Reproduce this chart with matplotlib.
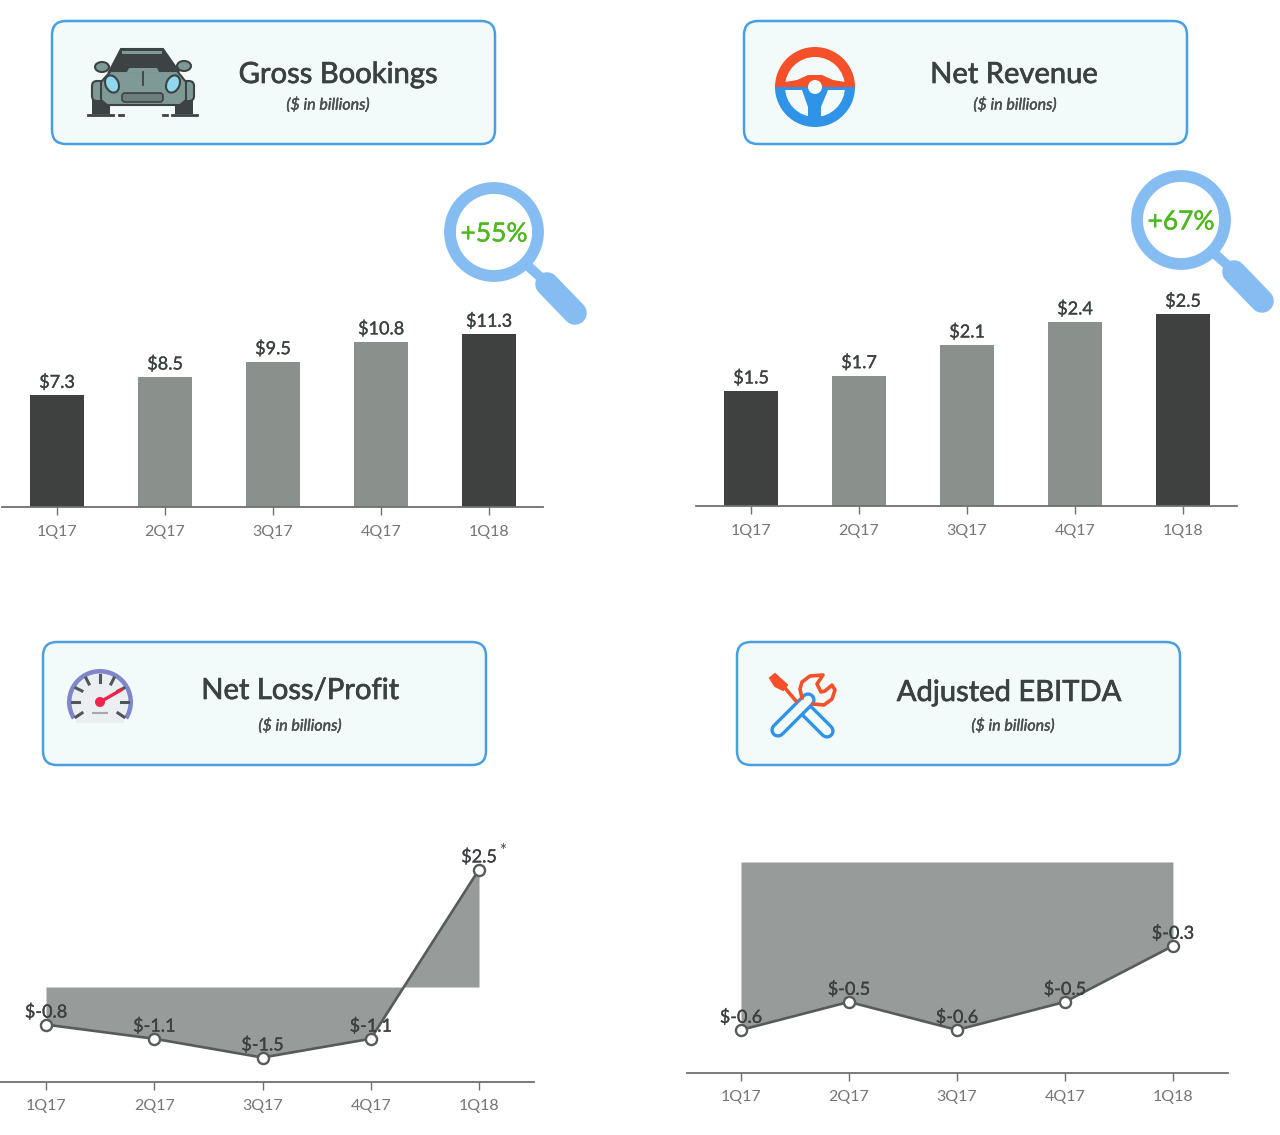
import matplotlib
matplotlib.use("Agg")
import matplotlib.pyplot as plt
import matplotlib.patheffects as pe
from matplotlib.patches import Circle, Ellipse, FancyBboxPatch, Polygon, Rectangle, Wedge

plt.rcParams['font.family'] = ['Lato', 'DejaVu Sans']

W, H = 1280, 1135

quarters = ['1Q17', '2Q17', '3Q17', '4Q17', '1Q18']
gross_bookings = [7.3, 8.5, 9.5, 10.8, 11.3]
net_revenue = [1.5, 1.7, 2.1, 2.4, 2.5]
net_loss = [-0.8, -1.1, -1.5, -1.1, 2.5]
adj_ebitda = [-0.6, -0.5, -0.6, -0.5, -0.3]

DARK = '#3f4040'
GREY = '#8a918d'
FILL = '#979b99'
LINE = '#565b5b'
AXIS = '#6e7070'
TEXT = '#3b4040'
TICK = '#747676'
BLUE = '#4a9fe2'
CARD = '#f2fbfa'
GLASS = '#85bdf2'
ORANGE = '#f4502a'
WHEEL_BLUE = '#2f93e8'

fig = plt.figure(figsize=(W / 100, H / 100), dpi=100, facecolor='white')

# overlay in pixel coords for the cards and icons
bg = fig.add_axes([0, 0, 1, 1])
bg.set_xlim(0, W)
bg.set_ylim(H, 0)
bg.axis('off')


def thick(color, w=0.5):
    # Lato here has no medium weight, so fatten the regular one a bit
    return [pe.withStroke(linewidth=w, foreground=color)]


def px_axes(x0, x1, y_bottom, y_top):
    ax = fig.add_axes([x0 / W, 1 - y_bottom / H, (x1 - x0) / W, (y_bottom - y_top) / H])
    ax.patch.set_alpha(0)
    for s in ['top', 'left', 'right']:
        ax.spines[s].set_visible(False)
    ax.spines['bottom'].set_color(AXIS)
    ax.spines['bottom'].set_linewidth(1.3)
    ax.set_yticks([])
    ax.set_xticks(range(5))
    ax.set_xticklabels(quarters)
    ax.tick_params(axis='x', length=5.8, width=1, color=AXIS, labelsize=11.5, labelcolor=TICK)
    return ax


def card(x0, y0, title, title_x, title_y, sub_x, sub_y):
    bg.add_patch(FancyBboxPatch((x0 + 14, y0 + 14), 443 - 28, 123 - 28,
                                boxstyle='round,pad=14,rounding_size=14',
                                fc=CARD, ec=BLUE, lw=1.8))
    bg.text(title_x, title_y, title, fontsize=21, color=TEXT, ha='center', va='center',
            path_effects=thick(TEXT, 0.5))
    bg.text(sub_x, sub_y, '($ in billions)', fontsize=11.5, style='italic',
            color='#4a4f4f', ha='center', va='center', path_effects=thick('#4a4f4f', 0.3))


def magnifier(cx, cy, label):
    bg.plot([cx + 34, cx + 54], [cy + 34, cy + 52], color=GLASS, lw=7, solid_capstyle='butt')
    bg.plot([cx + 53, cx + 81], [cy + 52, cy + 81], color=GLASS, lw=17, solid_capstyle='round')
    bg.add_patch(Circle((cx, cy), 44, fc='white', ec=GLASS, lw=8.5))
    bg.text(cx, cy + 2, label, fontsize=19, color='#4fb81e', ha='center', va='center',
            path_effects=thick('#4fb81e', 0.3))


def car_icon():
    dark = '#3d4245'
    body = '#7f9a96'
    bg.add_patch(Ellipse((102, 67), 14, 10, fc=body, ec=dark, lw=1.5))
    bg.add_patch(Ellipse((184, 66), 14, 10, fc=body, ec=dark, lw=1.5))
    bg.add_patch(Polygon([(121, 49), (163, 49), (179, 72), (109, 72)], fc=dark, ec=dark, lw=1.5))
    bg.add_patch(Rectangle((122, 51), 40, 3, fc=body, ec='none'))
    bg.add_patch(Rectangle((92, 98), 18, 16, fc=dark))
    bg.add_patch(Rectangle((175, 98), 18, 16, fc=dark))
    # fenders behind the hood
    bg.add_patch(FancyBboxPatch((92, 81), 14, 20, boxstyle='round,pad=0,rounding_size=5',
                                fc=body, ec=dark, lw=1.5))
    bg.add_patch(FancyBboxPatch((180, 81), 14, 20, boxstyle='round,pad=0,rounding_size=5',
                                fc=body, ec=dark, lw=1.5))
    bg.add_patch(Polygon([(101, 82), (111, 71), (177, 71), (186, 82), (186, 100), (180, 105),
                          (107, 105), (101, 100)], fc=body, ec=dark, lw=1.5))
    bg.add_patch(Polygon([(129, 68), (157, 68), (159, 72), (127, 72)], fc=body, ec='none'))
    bg.plot([143, 143], [72, 85], color=dark, lw=1.3)
    bg.add_patch(Ellipse((112, 84), 13, 18, angle=-25, fc='#8fd8ee', ec=dark, lw=1.5))
    bg.add_patch(Ellipse((173, 84), 13, 18, angle=25, fc='#8fd8ee', ec=dark, lw=1.5))
    bg.add_patch(FancyBboxPatch((122, 93), 41, 9, boxstyle='round,pad=0,rounding_size=3',
                                fc='#6c7d7b', ec=dark, lw=1.2))
    for a, b in [(88, 113), (119, 123), (163, 167), (172, 197)]:
        bg.plot([a, b], [115, 115], color=dark, lw=2)


def wheel_icon():
    c = (815, 87)
    bg.add_patch(Wedge(c, 40, 180, 360, width=10, fc=ORANGE, ec='none'))
    bg.add_patch(Wedge(c, 40, 0, 180, width=10, fc=WHEEL_BLUE, ec='none'))
    bg.add_patch(Polygon([(780, 87), (785, 82), (797, 80), (808, 75), (822, 75), (833, 80),
                          (845, 82), (850, 87)], fc=ORANGE, ec='none'))
    bg.add_patch(Polygon([(780, 87), (850, 87), (850, 90), (828, 90), (821, 107), (821, 124),
                          (808, 124), (808, 107), (802, 90), (780, 90)], fc=WHEEL_BLUE, ec='none'))
    bg.add_patch(Circle(c, 7, fc=CARD, ec='none'))


def gauge_icon():
    c = (100, 702)
    purple = '#7f86c9'
    mark = '#50575c'
    bg.add_patch(Wedge(c, 31, 148, 392, fc='#eceff1', ec='none'))
    bg.add_patch(Rectangle((76, 702), 48, 21, fc='#eceff1', ec='none'))
    bg.add_patch(Wedge(c, 33, 148, 392, width=4.5, fc=purple, ec='none'))
    for a, b, d, e in [(72, 702, 79, 702), (121, 702, 128, 702), (100, 675, 100, 682), (76, 688, 82, 691),
                       (124, 688, 118, 691), (86, 678, 89, 684), (114, 678, 111, 684), (76, 717, 82, 713),
                       (124, 717, 118, 713)]:
        bg.plot([a, d], [b, e], color=mark, lw=2.2)
    bg.plot([93, 107], [713, 713], color='#a4a9ab', lw=1.5)
    bg.plot([100, 121], [702, 690], color='#f0234a', lw=2.4)
    bg.add_patch(Circle(c, 5, fc='#f0234a', ec='none'))


def tools_icon():
    # back handle, then front one, then the orange heads on top
    for p in [((827, 731), (808, 712)), ((778, 730), (808, 700))]:
        bg.plot([p[0][0], p[1][0]], [p[0][1], p[1][1]], color=WHEEL_BLUE, lw=11, solid_capstyle='round')
        bg.plot([p[0][0], p[1][0]], [p[0][1], p[1][1]], color=CARD, lw=6.2, solid_capstyle='round')
    head_x = [802, 800, 802, 810, 823, 817, 821, 825, 832, 835, 832, 824, 813]
    head_y = [698, 689, 682, 676, 675, 684, 692, 691, 685, 690, 699, 705, 704]
    bg.fill(head_x, head_y, fc=CARD, ec='none')
    bg.plot(head_x, head_y, color=ORANGE, lw=2.6)
    bg.plot([785, 796], [688, 701], color=ORANGE, lw=2.6)
    bg.add_patch(Polygon([(770, 678), (775, 674), (787, 685), (783, 690), (775, 686)],
                         fc=ORANGE, ec=ORANGE, lw=1.5))


card(52, 21, 'Gross Bookings', 338, 75, 328, 105)
card(744, 21, 'Net Revenue', 1014, 75, 1015, 105)
card(43, 642, 'Net Loss/Profit', 300, 691, 300, 726)
card(737, 642, 'Adjusted EBITDA', 1009, 693, 1013, 726)
car_icon()
wheel_icon()
gauge_icon()
tools_icon()
magnifier(494, 232, '+55%')
magnifier(1181, 220, '+67%')


def bar_panel(ax, values, colors):
    ax.bar(range(5), values, width=0.5, color=colors)
    ax.tick_params(axis='x', pad=7.2)
    for i, v in enumerate(values):
        ax.annotate('$%.1f' % v, (i, v), xytext=(0, 9.2), textcoords='offset points',
                    ha='center', va='center', fontsize=13, color=TEXT, path_effects=thick(TEXT, 0.2))


def line_panel(ax, values):
    ax.fill_between(range(5), 0, values, color=FILL, lw=0)
    ax.plot(range(5), values, color=LINE, lw=1.9, marker='o', ms=8, mfc='white', mec=LINE, mew=1.7,
            clip_on=False, zorder=3)
    ax.tick_params(axis='x', pad=6.2)
    for i, v in enumerate(values):
        ax.annotate('$%.1f' % v, (i, v), xytext=(0, 8.9), textcoords='offset points',
                    ha='center', va='center', fontsize=13, color=TEXT, zorder=4,
                    path_effects=thick(TEXT, 0.2))


bar_colors_1 = [DARK, GREY, GREY, GREY, DARK]

ax1 = px_axes(2, 543, 507, 293)
bar_panel(ax1, gross_bookings, bar_colors_1)
ax1.set_xlim(-0.51, 4.5)
ax1.set_ylim(0, 14)

ax2 = px_axes(696, 1237, 506, 276)
bar_panel(ax2, net_revenue, bar_colors_1)
ax2.set_xlim(-0.51, 4.5)
ax2.set_ylim(0, 3)

ax3 = px_axes(0, 534, 1082, 846)
line_panel(ax3, net_loss)
ax3.set_xlim(-0.425, 4.508)
ax3.set_ylim(-2.02, 3)
ax3.annotate('*', (4, 2.5), xytext=(17, 13), textcoords='offset points', ha='center', va='center',
             fontsize=12, color=TEXT)

ax4 = px_axes(687, 1228, 1073, 848)
line_panel(ax4, adj_ebitda)
ax4.set_xlim(-0.5, 4.51)
ax4.set_ylim(-0.754, 0.05)

fig.savefig('out.png', dpi=100)
